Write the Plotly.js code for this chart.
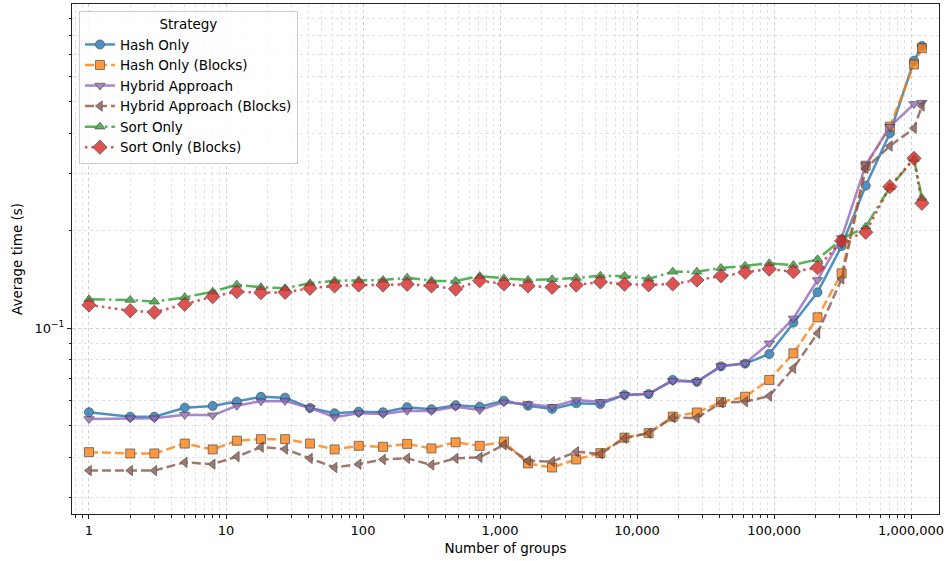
<!DOCTYPE html>
<html>
<head>
<meta charset="utf-8">
<script src="https://cdn.plot.ly/plotly-3.0.1.min.js"></script>
<style>html,body{margin:0;padding:0;background:#fff;}#chart{width:947px;height:561px;}</style>
</head>
<body>
<div id="chart"></div>
<script>
const groups = [1, 2, 3, 5, 8, 12, 18, 27, 41, 62, 93, 140, 210, 316, 474, 711, 1067, 1600, 2400, 3600, 5400, 8100, 12150, 18225, 27337, 41006, 61509, 92264, 138396, 207594, 311391, 467086, 700629, 1050943, 1200000];

const hashOnly = [0.0551, 0.0534, 0.0534, 0.0569, 0.0576, 0.0594, 0.0615, 0.0611, 0.0568, 0.0547, 0.0553, 0.0551, 0.0571, 0.0563, 0.0579, 0.0573, 0.0598, 0.0577, 0.0564, 0.0587, 0.0584, 0.0623, 0.0627, 0.0693, 0.0684, 0.0763, 0.0778, 0.0833, 0.1041, 0.1291, 0.1794, 0.2754, 0.3996, 0.669, 0.7427];
const hashOnlyBlocks = [0.0415, 0.0411, 0.0411, 0.0441, 0.0423, 0.0450, 0.0455, 0.0455, 0.0441, 0.0423, 0.0434, 0.0431, 0.0440, 0.0426, 0.0445, 0.0434, 0.0447, 0.0383, 0.0372, 0.0394, 0.0412, 0.0460, 0.0475, 0.0534, 0.0550, 0.0592, 0.0615, 0.0693, 0.0837, 0.1081, 0.1477, 0.3174, 0.4186, 0.6512, 0.7307];
const hybrid = [0.0525, 0.0528, 0.0528, 0.0541, 0.0539, 0.0577, 0.0596, 0.0597, 0.0568, 0.0532, 0.0547, 0.0544, 0.0557, 0.0556, 0.0573, 0.0560, 0.0591, 0.0584, 0.0573, 0.0601, 0.0593, 0.0623, 0.0628, 0.0688, 0.0684, 0.0765, 0.0780, 0.0899, 0.1073, 0.1409, 0.1900, 0.3190, 0.4186, 0.4918, 0.4965];
const hybridBlocks = [0.0364, 0.0364, 0.0364, 0.0386, 0.0381, 0.0402, 0.0430, 0.0424, 0.0397, 0.0372, 0.0381, 0.0394, 0.0397, 0.0379, 0.0397, 0.0400, 0.0437, 0.0390, 0.0388, 0.0416, 0.0410, 0.0458, 0.0475, 0.0530, 0.0529, 0.0589, 0.0594, 0.0618, 0.0753, 0.0965, 0.1420, 0.3115, 0.3649, 0.4140, 0.4850];
const sortOnly = [0.1229, 0.1223, 0.1208, 0.1246, 0.1297, 0.1363, 0.1338, 0.1329, 0.1377, 0.1402, 0.1405, 0.1409, 0.1432, 0.1402, 0.1399, 0.1449, 0.1426, 0.1409, 0.1416, 0.1430, 0.1452, 0.1450, 0.1420, 0.1495, 0.1495, 0.1534, 0.1558, 0.1587, 0.1567, 0.1632, 0.1882, 0.2058, 0.2720, 0.3330, 0.2523];
const sortOnlyBlocks = [0.1180, 0.1133, 0.1120, 0.1186, 0.1252, 0.1297, 0.1288, 0.1291, 0.1329, 0.1351, 0.1360, 0.1360, 0.1367, 0.1351, 0.1322, 0.1402, 0.1370, 0.1351, 0.1338, 0.1360, 0.1390, 0.1368, 0.1361, 0.1370, 0.1409, 0.1452, 0.1488, 0.1523, 0.1495, 0.1538, 0.1859, 0.1978, 0.2734, 0.3344, 0.2430];

const seriesNames = ["Hash Only", "Hash Only (Blocks)", "Hybrid Approach", "Hybrid Approach (Blocks)", "Sort Only", "Sort Only (Blocks)"];

const xTickVals = [1, 10, 100, 1000, 10000, 100000, 1000000];
const xTickText = ["1", "10", "100", "1,000", "10,000", "100,000", "1,000,000"];
const xMinorVals = [0.8, 0.9, 2,3,4,5,6,7,8,9, 20,30,40,50,60,70,80,90, 200,300,400,500,600,700,800,900, 2000,3000,4000,5000,6000,7000,8000,9000, 20000,30000,40000,50000,60000,70000,80000,90000, 200000,300000,400000,500000,600000,700000,800000,900000];
const yTickVals = [0.1];
const yTickText = ["10<sup>−1</sup>"];
const yMinorVals = [0.03,0.04,0.05,0.06,0.07,0.08,0.09,0.2,0.3,0.4,0.5,0.6,0.7,0.8,0.9];

const values = [hashOnly, hashOnlyBlocks, hybrid, hybridBlocks, sortOnly, sortOnlyBlocks];
const styles = [
  {color:'#1f77b4', dash:'solid', symbol:'circle', size:9},
  {color:'#ff7f0e', dash:'9px,4px', symbol:'square', size:9},
  {color:'#9467bd', dash:'solid', symbol:'triangle-down', size:9},
  {color:'#8c564b', dash:'9px,4px', symbol:'triangle-left', size:9},
  {color:'#2ca02c', dash:'16px,4px,2.5px,4px', symbol:'triangle-up', size:9},
  {color:'#d62728', dash:'2.5px,4px', symbol:'diamond', size:11}
];

const traces = values.map((v, i) => ({
  x: groups, y: v, name: seriesNames[i], type: 'scatter', mode: 'lines+markers',
  opacity: 0.8,
  line: {color: styles[i].color, width: 2.5, dash: styles[i].dash},
  marker: {symbol: styles[i].symbol, size: styles[i].size, color: styles[i].color,
           line: {color: '#333333', width: 0.8}}
}));

const fontFam = 'DejaVu Sans, sans-serif';
const layout = {
  width: 947, height: 561,
  margin: {l: 72, r: 8, t: 4, b: 47},
  paper_bgcolor: '#ffffff', plot_bgcolor: '#ffffff',
  font: {family: fontFam, size: 13, color: '#000'},
  showlegend: true,
  legend: {
    x: 0.008, y: 0.987, xanchor: 'left', yanchor: 'top',
    bgcolor: 'rgba(255,255,255,0.8)', bordercolor: '#cccccc', borderwidth: 1,
    font: {family: fontFam, size: 13.5},
    title: {text: 'Strategy', side: 'top center', font: {family: fontFam, size: 13.5}},
    tracegroupgap: 0
  },
  xaxis: {
    type: 'log', range: [-0.124, 6.204],
    tickmode: 'array', tickvals: xTickVals, ticktext: xTickText,
    ticks: 'outside', ticklen: 4, tickcolor: '#222', tickwidth: 1,
    showline: true, mirror: true, linecolor: '#222', linewidth: 1,
    showgrid: true, gridcolor: '#cfcfcf', griddash: 'dot', gridwidth: 1,
    zeroline: false,
    tickfont: {family: fontFam, size: 13},
    minor: {tickmode: 'array', tickvals: xMinorVals, ticks: 'outside', ticklen: 2.5, tickcolor: '#222',
            showgrid: true, gridcolor: '#e2e2e2', griddash: 'dot', gridwidth: 1},
    title: {text: 'Number of groups', font: {family: fontFam, size: 13.5}, standoff: 6}
  },
  yaxis: {
    type: 'log', range: [-1.5728, 0.0003],
    tickmode: 'array', tickvals: yTickVals, ticktext: yTickText,
    ticks: 'outside', ticklen: 4, tickcolor: '#222', tickwidth: 1,
    showline: true, mirror: true, linecolor: '#222', linewidth: 1,
    showgrid: true, gridcolor: '#cfcfcf', griddash: 'dot', gridwidth: 1,
    zeroline: false,
    tickfont: {family: fontFam, size: 13},
    minor: {tickmode: 'array', tickvals: yMinorVals, ticks: 'outside', ticklen: 2.5, tickcolor: '#222',
            showgrid: true, gridcolor: '#e2e2e2', griddash: 'dot', gridwidth: 1},
    title: {text: 'Average time (s)', font: {family: fontFam, size: 13.5}, standoff: 8}
  }
};

Plotly.newPlot('chart', traces, layout, {displayModeBar: false, staticPlot: true});
</script>
</body>
</html>
